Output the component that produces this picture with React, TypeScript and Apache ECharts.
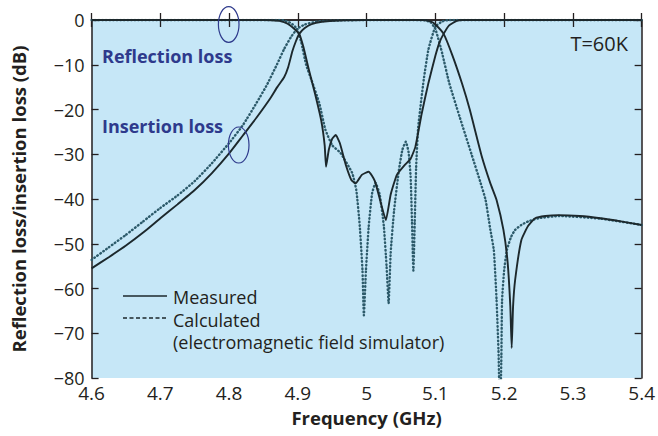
import React, { useEffect, useRef } from "react";
import * as echarts from "echarts";

// ---- data ----
const insMeasFreq = [4.6, 4.625, 4.65, 4.675, 4.7, 4.725, 4.75, 4.775, 4.8, 4.82, 4.84, 4.86, 4.87, 4.88, 4.886, 4.892, 4.897, 4.902, 4.91, 4.92, 4.935, 4.96, 5.0, 5.05, 5.08, 5.093, 5.1, 5.112, 5.125, 5.139, 5.15, 5.167, 5.18, 5.189, 5.199, 5.205, 5.209, 5.211, 5.213, 5.216, 5.225, 5.235, 5.245, 5.26, 5.279, 5.31, 5.34, 5.37, 5.4];
const insMeasVal = [-55.5, -53.0, -50.4, -47.5, -44.3, -41.2, -38.0, -34.2, -29.8, -25.8, -21.8, -17.5, -15.0, -12.8, -10.5, -7.0, -4.8, -3.1, -1.8, -0.9, -0.4, -0.1, 0, 0, 0, -0.3, -1.0, -3.1, -8.0, -14.3, -20.0, -30.2, -36.5, -40.2, -46.9, -54, -64, -73.3, -64, -58.1, -49.2, -46.0, -44.3, -43.8, -43.6, -43.8, -44.3, -45.0, -45.8];

const insCalcFreq = [4.6, 4.625, 4.65, 4.675, 4.7, 4.725, 4.75, 4.775, 4.8, 4.82, 4.84, 4.855, 4.87, 4.88, 4.89, 4.899, 4.91, 4.93, 4.96, 5.0, 5.06, 5.085, 5.093, 5.1, 5.11, 5.12, 5.135, 5.153, 5.165, 5.173, 5.18, 5.185, 5.189, 5.192, 5.194, 5.196, 5.197, 5.2, 5.204, 5.21, 5.216, 5.225, 5.235, 5.25, 5.28, 5.34, 5.4];
const insCalcVal = [-53.6, -50.8, -48.0, -45.0, -42.0, -39.2, -36.0, -32.0, -27.5, -23.5, -18.5, -14.5, -9.8, -6.5, -3.8, -2.0, -1.0, -0.3, -0.1, 0, 0, -0.1, -0.5, -2.0, -7.5, -14.0, -21.5, -30.2, -36.0, -40.2, -46.9, -51.4, -62.6, -75, -90, -75, -62.6, -56, -51.4, -48.5, -46.9, -45.8, -45.0, -44.3, -43.8, -44.4, -45.8];

const refMeasFreq = [4.6, 4.8, 4.85, 4.862, 4.873, 4.885, 4.895, 4.902, 4.908, 4.915, 4.925, 4.934, 4.939, 4.941, 4.945, 4.95, 4.955, 4.961, 4.97, 4.978, 4.984, 4.993, 5.003, 5.012, 5.02, 5.028, 5.035, 5.044, 5.055, 5.064, 5.071, 5.08, 5.09, 5.1, 5.106, 5.112, 5.12, 5.131, 5.14, 5.4];
const refMeasVal = [0, 0, 0, -0.05, -0.2, -0.8, -2.0, -3.1, -6.0, -10.5, -16.5, -22.5, -28.0, -32.8, -29.0, -26.5, -25.7, -27.5, -32.5, -35.8, -36.5, -34.6, -33.9, -36.0, -40.5, -44.7, -39.0, -34.6, -32.5, -31.0, -28.3, -21.0, -14.0, -8.0, -5.0, -3.1, -1.2, -0.2, 0, 0];

const refCalcFreq = [4.6, 4.8, 4.87, 4.88, 4.89, 4.899, 4.905, 4.912, 4.92, 4.931, 4.94, 4.95, 4.962, 4.979, 4.985, 4.99, 4.994, 4.996, 4.999, 5.003, 5.008, 5.013, 5.019, 5.025, 5.029, 5.032, 5.035, 5.04, 5.047, 5.052, 5.057, 5.061, 5.064, 5.066, 5.068, 5.07, 5.072, 5.075, 5.083, 5.09, 5.1, 5.11, 5.12, 5.4];
const refCalcVal = [0, 0, 0, -0.1, -0.7, -2.0, -5.0, -10.0, -13.5, -18.5, -24.5, -28.0, -29.7, -34.2, -38.0, -46.0, -56.0, -66.0, -56.0, -46.2, -38.7, -36.4, -39.0, -46.0, -55.0, -63.3, -52.0, -42.5, -33.5, -29.0, -27.2, -29.5, -35.0, -45.0, -56.0, -45.0, -33.0, -24.0, -13.4, -6.5, -1.5, -0.3, 0, 0];

const legendLabels = ["Measured", "Calculated", "(electromagnetic field simulator)"];
const xName = "Frequency (GHz)";
const yName = "Reflection loss/insertion loss (dB)";

const zip = (f: number[], v: number[]) => f.map((x, i) => [x, v[i]]);

const FONT = "'Open Sans', 'Noto Sans', sans-serif";
const TXT = "#231f20";
const SOLID = "#1c282c";
const DOT = "#2c5a6a";
const BLUE = "#2e3a8c";

export default function App() {
  const ref = useRef<HTMLDivElement>(null);
  useEffect(() => {
    document.body.style.margin = "0";
    const chart = echarts.init(ref.current!, null, { renderer: "svg" });
    const axisLine = { show: true, lineStyle: { color: TXT, width: 1.5 } };
    const axisTick = { show: true, inside: true, length: 7, lineStyle: { color: TXT, width: 1.3 } };
    const labelFmt = (v: number) => String(v).replace("-", "\u2212");
    const solidLine = (name: string, data: number[][]) => ({
      type: "line", name, data, showSymbol: false, symbol: "none", smooth: 0.15,
      lineStyle: { color: SOLID, width: 1.9 }, z: 3, clip: true,
    });
    const dotLine = (name: string, data: number[][]) => ({
      type: "line", name, data, showSymbol: false, symbol: "none", smooth: 0.15,
      lineStyle: { color: DOT, width: 2.4, type: [0.6, 3], cap: "round" }, z: 2, clip: true,
    });
    chart.setOption({
      animation: false,
      grid: { left: 91.6, right: 15, top: 20, bottom: 58, show: true, backgroundColor: "#c6e7f7", borderWidth: 0 },
      xAxis: [
        {
          type: "value", min: 4.6, max: 5.4, interval: 0.1, position: "bottom",
          axisLine, axisTick, splitLine: { show: false },
          axisLabel: { color: TXT, fontFamily: FONT, fontSize: 19, lineHeight: 14, margin: 8, formatter: labelFmt },
          name: xName, nameLocation: "middle", nameGap: 30,
          nameTextStyle: { color: TXT, fontFamily: FONT, fontSize: 18.5, fontWeight: "bold" },
        },
        {
          type: "value", min: 4.6, max: 5.4, interval: 0.1, position: "top",
          axisLine, axisTick, splitLine: { show: false }, axisLabel: { show: false },
        },
      ],
      yAxis: [
        {
          type: "value", min: -80, max: 0, interval: 10, position: "left",
          axisLine, axisTick, splitLine: { show: false },
          axisLabel: { color: TXT, fontFamily: FONT, fontSize: 18, lineHeight: 13, margin: 7, formatter: labelFmt },
          name: yName, nameLocation: "middle", nameGap: 64,
          nameTextStyle: { color: TXT, fontFamily: FONT, fontSize: 18.5, fontWeight: "bold" },
        },
        {
          type: "value", min: -80, max: 0, interval: 10, position: "right",
          axisLine, axisTick, splitLine: { show: false }, axisLabel: { show: false },
        },
      ],
      series: [
        dotLine("Insertion calculated", zip(insCalcFreq, insCalcVal)),
        dotLine("Reflection calculated", zip(refCalcFreq, refCalcVal)),
        solidLine("Insertion measured", zip(insMeasFreq, insMeasVal)),
        solidLine("Reflection measured", zip(refMeasFreq, refMeasVal)),
      ],
      graphic: [
        { type: "text", z: 100, x: 102, y: 56, style: { text: "Reflection loss", fill: BLUE, font: `bold 18px ${FONT}`, verticalAlign: "middle" } },
        { type: "text", z: 100, x: 102, y: 126, style: { text: "Insertion loss", fill: BLUE, font: `bold 18px ${FONT}`, verticalAlign: "middle" } },
        { type: "text", z: 100, x: 628, y: 43, style: { text: "T=60K", fill: TXT, font: `20px ${FONT}`, align: "right", verticalAlign: "middle" } },
        { type: "ellipse", z: 100, shape: { cx: 228.7, cy: 24.5, rx: 10.3, ry: 17.8 }, style: { fill: "none", stroke: BLUE, lineWidth: 1.2 } },
        { type: "ellipse", z: 100, shape: { cx: 238.7, cy: 145, rx: 10.3, ry: 18 }, style: { fill: "none", stroke: BLUE, lineWidth: 1.2 } },
        { type: "line", z: 100, shape: { x1: 123, y1: 296, x2: 167, y2: 296 }, style: { stroke: SOLID, lineWidth: 1.3 } },
        { type: "line", z: 100, shape: { x1: 123, y1: 318, x2: 167, y2: 318 }, style: { stroke: SOLID, lineWidth: 1.3, lineDash: [4, 2.5] } },
        { type: "text", z: 100, x: 173, y: 297, style: { text: legendLabels[0], fill: TXT, font: `18px ${FONT}`, verticalAlign: "middle" } },
        { type: "text", z: 100, x: 173, y: 319.5, style: { text: legendLabels[1], fill: TXT, font: `18px ${FONT}`, verticalAlign: "middle" } },
        { type: "text", z: 100, x: 173, y: 342, style: { text: legendLabels[2], fill: TXT, font: `18px ${FONT}`, verticalAlign: "middle" } },
      ],
    });
    return () => chart.dispose();
  }, []);
  return <div ref={ref} style={{ width: 658, height: 436 }} />;
}
